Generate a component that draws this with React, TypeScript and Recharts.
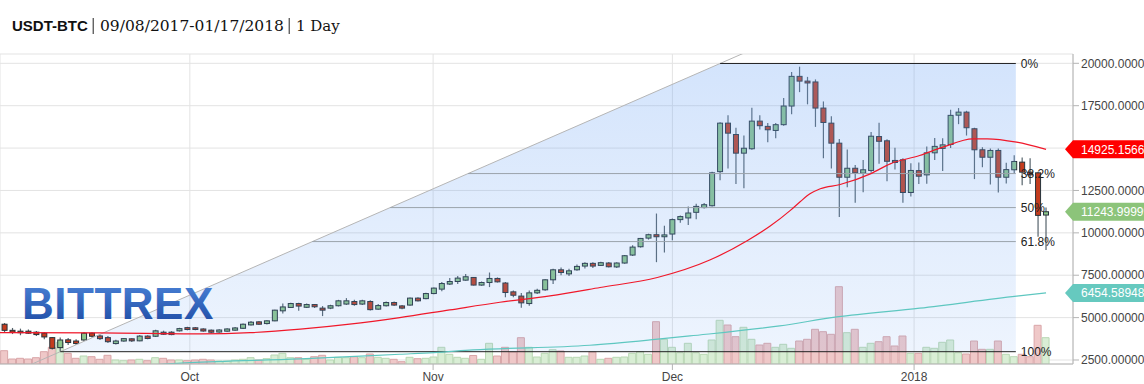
import React from "react";
import {
  Area,
  Bar,
  CartesianGrid,
  Cell,
  ComposedChart,
  Line,
  ReferenceDot,
  ReferenceLine,
  XAxis,
  YAxis,
} from "recharts";

// daily candles, 09/08/2017 .. 01/17/2018 (USDT per BTC)
const opens = [
  4610, 4250, 4200, 4200, 4140, 4080, 3820, 3230, 3690, 3620,
  3680, 4080, 3920, 3820, 3470, 3620, 3750, 3630, 3910, 3900,
  4140, 4140, 4220, 4410, 4400, 4330, 4260, 4150, 4200, 4260,
  4370, 4570, 4750, 4650, 4810, 5400, 5600, 5830, 5610, 5770,
  5560, 5560, 5700, 5800, 5950, 5800, 5950, 5500, 5700, 5890,
  5690, 5740, 6150, 6120, 6420, 6680, 6980, 7130, 7210, 7370,
  6920, 7070, 7310, 7040, 6520, 6270, 5830, 6460, 6640, 7230,
  7820, 7580, 7820, 8040, 8200, 8080, 8220, 7990, 8220, 8690,
  9180, 9690, 9890, 9770, 9930, 10780, 10880, 11210, 11490, 11600,
  13610, 16470, 15800, 14700, 14960, 16590, 16280, 16040, 16380, 17480,
  19230, 18950, 18900, 17360, 16470, 15290, 13280, 13810, 13520, 13680,
  15680, 15430, 14270, 14310, 12380, 13670, 13420, 14720, 14980, 15210,
  16940, 17120, 16140, 14900, 14460, 14860, 13280, 13720, 14170, 13580,
  13540, 11050,
];
const highs = [
  4680, 4390, 4350, 4300, 4210, 4150, 3860, 3820, 3800, 3720,
  4150, 4130, 4010, 3920, 3690, 3800, 3790, 3970, 3960, 4280,
  4230, 4200, 4400, 4460, 4440, 4380, 4300, 4320, 4380, 4440,
  4660, 4800, 4800, 4850, 5470, 5830, 5880, 5880, 5830, 5800,
  5680, 5760, 6050, 6150, 6050, 6050, 6030, 5800, 5950, 5950,
  5750, 6180, 6200, 6460, 6780, 7100, 7330, 7460, 7570, 7400,
  7130, 7660, 7370, 7100, 6600, 6450, 6600, 6700, 7270, 7880,
  7950, 7880, 8140, 8260, 8260, 8300, 8280, 8270, 8700, 9270,
  9700, 9950, 11140, 10420, 10850, 11020, 11550, 11710, 11760, 13600,
  16530, 16940, 16200, 15740, 17380, 16940, 16480, 16480, 17960, 19490,
  19800, 19200, 19050, 17750, 16870, 15530, 14920, 14000, 14300, 15950,
  16500, 15520, 15020, 14400, 14100, 14150, 15100, 15600, 15580, 17260,
  17360, 17200, 16200, 15050, 14980, 14980, 14130, 14580, 14450, 14400,
  13600, 11500,
];
const lows = [
  4100, 4030, 3960, 4040, 3920, 3720, 3120, 2990, 3390, 3390,
  3620, 3830, 3680, 3510, 3420, 3580, 3560, 3600, 3720, 3860,
  3980, 3960, 4180, 4250, 4260, 4160, 4080, 4100, 4160, 4220,
  4330, 4530, 4560, 4600, 4780, 5240, 5560, 5410, 5560, 5560,
  5090, 5500, 5660, 5750, 5700, 5750, 5420, 5460, 5650, 5680,
  5500, 5700, 5950, 6080, 6380, 6560, 6920, 6980, 7170, 6900,
  6880, 6800, 7070, 6200, 6200, 5580, 5700, 6400, 6580, 6990,
  7500, 7460, 7760, 7900, 7920, 8050, 7960, 7930, 8180, 8640,
  9130, 9600, 8270, 8840, 9570, 10600, 10470, 10800, 11430, 11560,
  13100, 13790, 12880, 12630, 14900, 16100, 15350, 15580, 16320, 17000,
  18300, 17580, 16250, 14400, 13800, 10940, 12690, 11770, 12400, 13550,
  14070, 13040, 13740, 11770, 12150, 12880, 12900, 14300, 13650, 15000,
  16410, 15740, 13170, 13870, 12850, 12380, 12910, 13500, 12800, 12880,
  9770, 8990,
];
const closes = [
  4250, 4140, 4120, 4080, 4000, 3860, 3190, 3680, 3530, 3470,
  4080, 3900, 3760, 3580, 3620, 3760, 3630, 3910, 3770, 4220,
  4020, 4000, 4350, 4300, 4300, 4210, 4140, 4270, 4330, 4390,
  4610, 4730, 4610, 4810, 5440, 5630, 5830, 5680, 5770, 5640,
  5440, 5700, 5990, 5990, 5770, 5990, 5470, 5710, 5890, 5740,
  5560, 6150, 5990, 6420, 6740, 7010, 7130, 7330, 7410, 6920,
  7070, 7310, 7110, 6480, 6320, 5870, 6460, 6610, 7230, 7820,
  7660, 7760, 8020, 8200, 8040, 8240, 8000, 8220, 8650, 9160,
  9670, 9890, 9770, 9880, 10780, 10960, 11170, 11560, 11660, 13540,
  16470, 15880, 14700, 14990, 16590, 16320, 16080, 16380, 17480, 19230,
  18950, 18840, 17360, 16510, 15290, 13280, 13810, 13540, 13720, 15700,
  15400, 14220, 14150, 12380, 13680, 13340, 14720, 15100, 15190, 16930,
  17120, 16200, 14900, 14460, 14860, 13280, 13730, 14210, 13580, 13420,
  11030, 11243.99999,
];
const volumes = [
  13.3, 5, 5.7, 5, 6.3, 12.3, 16.7, 21.7, 10.7, 5.7,
  8, 7.3, 4.7, 8.7, 4, 3.3, 4, 4.7, 3.3, 6.3,
  5.7, 4, 4, 3.3, 4, 4.7, 4, 3, 3, 4,
  4.7, 6.3, 4, 5.3, 9, 10.7, 6.3, 6.3, 4.7, 7.3,
  8.7, 4, 6.7, 6.3, 7.3, 6.3, 10, 6.7, 5.7, 4.7,
  2.3, 6.7, 5.3, 5.7, 7, 16.7, 9.7, 6.7, 5.7, 8.5,
  4.7, 20.7, 8, 16.7, 12, 26.3, 16.7, 7, 10.7, 14.3,
  13, 6.7, 6.7, 8, 12, 4.7, 5.7, 6.7, 7, 10.7,
  12.3, 9.7, 42.3, 24.7, 16.7, 11.3, 20.7, 11.3, 9.7, 24,
  43.7, 39, 27.3, 36.7, 24.7, 19, 20.7, 16.7, 19.7, 15.7,
  23, 24.7, 34.7, 32.3, 29.7, 77.3, 31.3, 34.7, 16.7, 20.7,
  22.3, 27.3, 18, 28, 10.7, 10.7, 16.7, 15.7, 21.7, 24,
  11.3, 10, 23, 14.7, 14.7, 23, 9.7, 7.3, 9.7, 7.3,
  38.7, 26.3,
];

// moving averages: [candle index, price]
const maRed: [number, number][] = [
  [-0.6, 4110], [12, 4097], [24.6, 4040], [30.9, 4110], [37.2, 4316],
  [43.4, 4611], [49.7, 5000], [56, 5456], [62.3, 5906], [68.6, 6284],
  [74.9, 6775], [82.1, 7366], [88.7, 8395], [93.4, 9536], [96.3, 10400],
  [98.8, 11310], [100.1, 11850], [101.3, 12300], [102.6, 12600], [105.1, 12850],
  [108.9, 13479], [111.4, 14070], [115.1, 14561], [118, 15052], [121.8, 15548],
  [123.6, 15548], [127.3, 15347], [131, 14925.15669],
];
const maTeal: [number, number][] = [
  [14.5, 2180], [19.6, 2246], [23.3, 2340], [37.2, 2570], [49.7, 2838],
  [54, 2932], [58.9, 3092], [73.6, 3370], [81.2, 3683], [86.2, 3919],
  [97.5, 4510], [104.7, 5043], [115.1, 5557], [127.3, 6266], [131, 6454.589485],
];

const monthTicks = [23.3, 53.9, 84.0, 114.4];
const monthLabels = ["Oct", "Nov", "Dec", "2018"];
const priceTicks = [2500, 5000, 7500, 10000, 12500, 15000, 17500, 20000];

// fibonacci retracement tool: anchors and levels
const fibLow = { i: 7, p: 2990 };
const fibHigh = { i: 90, p: 19990 };
const fibEnd = 127.2;
const fibLevels = [0, 0.382, 0.5, 0.618, 1];

const candles = opens.map((o, i) => ({
  i,
  o,
  h: highs[i],
  l: lows[i],
  c: closes[i],
  v: volumes[i],
}));
const redLine = maRed.map(([i, v]) => ({ i, v }));
const tealLine = maTeal.map(([i, v]) => ({ i, v }));

const fibRange = fibHigh.p - fibLow.p;
const fibSlope = fibRange / (fibHigh.i - fibLow.i);
const fibPrice = (lvl: number) => fibHigh.p - lvl * fibRange;
const fibStart = (p: number) => fibLow.i + (p - fibLow.p) / fibSlope;
const fibArea = [
  { i: fibLow.i, v: fibLow.p },
  { i: fibHigh.i, v: fibHigh.p },
  { i: fibEnd, v: fibHigh.p },
];

const X_DOMAIN: [number, number] = [-0.579, 134.39];
const Y_DOMAIN: [number, number] = [2264, 20549];
const SANS = "'Liberation Sans', Arial, sans-serif";
const SERIF = "'DejaVu Serif', serif";
const UP = "#8dc68a";
const DOWN = "#c43c1e";
const BODY_W = 5;

function Candle(props: any) {
  const { x, y, width, height, payload } = props;
  if (x == null || !payload) return null;
  const top = Math.min(y, y + height);
  const span = Math.abs(height);
  const { o, h, l, c } = payload;
  const k = h > l ? span / (h - l) : 0;
  const yo = top + (h - o) * k;
  const yc = top + (h - c) * k;
  const mid = x + (width || 0) / 2;
  const bt = Math.min(yo, yc);
  const bh = Math.max(Math.abs(yo - yc), 1.5);
  return (
    <g>
      <line x1={mid} x2={mid} y1={top} y2={top + span} stroke="#56636b" strokeWidth={1.2} />
      <rect
        x={mid - BODY_W / 2}
        y={bt}
        width={BODY_W}
        height={bh}
        fill={c >= o ? UP : DOWN}
        stroke="#26323a"
        strokeWidth={1}
      />
    </g>
  );
}

function priceTag(color: string, text: string) {
  return (props: any) => {
    const cy = props.cy;
    return (
      <g>
        <path
          d={`M1065,${cy} L1073,${cy - 9} L1150,${cy - 9} L1150,${cy + 9} L1073,${cy + 9} Z`}
          fill={color}
        />
        <text x={1081} y={cy + 4.5} fill="#fff" fontSize={12} fontFamily={SANS}>
          {text}
        </text>
      </g>
    );
  };
}

export default function App() {
  const lastRed = maRed[maRed.length - 1][1];
  const lastTeal = maTeal[maTeal.length - 1][1];
  const lastClose = closes[closes.length - 1];
  return (
    <div
      style={{
        position: "absolute",
        left: 0,
        top: 0,
        width: 1144,
        height: 384,
        background: "#fff",
        overflow: "hidden",
      }}
    >
      <ComposedChart
        width={1144}
        height={384}
        data={candles}
        margin={{ top: 54, right: 0, bottom: 0, left: 0 }}
      >
        <defs>
          <linearGradient id="fibFill" x1="0" y1="0" x2="0" y2="1">
            <stop offset="0%" stopColor="#6ea5f5" stopOpacity={0.3} />
            <stop offset="100%" stopColor="#6ea5f5" stopOpacity={0.12} />
          </linearGradient>
        </defs>
        <CartesianGrid xAxisId="c" yAxisId="p" stroke="#e3e3e3" zIndex={-100} />
        <XAxis
          xAxisId="c"
          dataKey="i"
          type="number"
          domain={X_DOMAIN}
          allowDataOverflow
          ticks={monthTicks}
          interval={0}
          tickFormatter={(_v: number, idx: number) => monthLabels[idx] ?? ""}
          height={20}
          tick={{ fontSize: 12, fill: "#444", fontFamily: SANS }}
          axisLine={{ stroke: "#b4b4b4" }}
          tickLine={{ stroke: "#b4b4b4" }}
        />
        <XAxis xAxisId="v" dataKey="i" type="number" domain={X_DOMAIN} allowDataOverflow hide />
        <YAxis
          yAxisId="p"
          orientation="right"
          width={71}
          domain={Y_DOMAIN}
          allowDataOverflow
          ticks={priceTicks}
          interval={0}
          tickFormatter={(v: number) => v.toFixed(6)}
          tick={{ fontSize: 12, fill: "#444", fontFamily: SANS }}
          axisLine={{ stroke: "#b4b4b4" }}
          tickLine={{ stroke: "#b4b4b4" }}
        />
        <YAxis yAxisId="vol" hide domain={[0, 310]} allowDataOverflow />

        {fibLevels.map((lvl) => (
          <ReferenceLine
            key={`lab${lvl}`}
            xAxisId="c"
            yAxisId="p"
            segment={[
              { x: fibStart(fibPrice(lvl)), y: fibPrice(lvl) },
              { x: fibEnd, y: fibPrice(lvl) },
            ]}
            stroke="none"
            strokeOpacity={0}
            zIndex={50}
            label={{
              value: `${+(lvl * 100).toFixed(1)}%`,
              position: "right",
              fill: "#222",
              fontSize: 12,
              fontFamily: SANS,
            }}
          />
        ))}

        <Bar
          xAxisId="v"
          yAxisId="vol"
          dataKey="v"
          barSize={7}
          isAnimationActive={false}
          zIndex={100}
        >
          {candles.map((d) => (
            <Cell
              key={d.i}
              fill={d.c >= d.o ? "#d9eed5" : "#efc8c8"}
              stroke={d.c >= d.o ? "#b8d7b3" : "#d9a6a8"}
              strokeWidth={1}
            />
          ))}
        </Bar>
        <Bar
          xAxisId="c"
          yAxisId="p"
          dataKey={(d: any) => [d.l, d.h]}
          barSize={6}
          shape={Candle}
          isAnimationActive={false}
          zIndex={200}
        />

        <Area
          data={fibArea}
          xAxisId="c"
          yAxisId="p"
          dataKey="v"
          type="linear"
          baseValue={fibLow.p}
          stroke="none"
          fill="url(#fibFill)"
          fillOpacity={1}
          dot={false}
          activeDot={false}
          isAnimationActive={false}
          zIndex={350}
        />
        <ReferenceLine
          xAxisId="c"
          yAxisId="p"
          segment={[
            { x: fibLow.i - 30, y: fibLow.p - 30 * fibSlope },
            { x: fibHigh.i + 30, y: fibHigh.p + 30 * fibSlope },
          ]}
          ifOverflow="hidden"
          stroke="#b5b5b5"
          strokeWidth={1}
          zIndex={360}
        />
        {fibLevels.map((lvl) => (
          <ReferenceLine
            key={`fib${lvl}`}
            xAxisId="c"
            yAxisId="p"
            segment={[
              { x: fibStart(fibPrice(lvl)), y: fibPrice(lvl) },
              { x: fibEnd, y: fibPrice(lvl) },
            ]}
            stroke={lvl === 0 || lvl === 1 ? "#222" : "#9ba3ab"}
            strokeWidth={1}
            zIndex={360}
          />
        ))}

        <Line
          data={tealLine}
          xAxisId="c"
          yAxisId="p"
          dataKey="v"
          type="monotone"
          stroke="#5ec7c0"
          strokeWidth={1.2}
          dot={false}
          activeDot={false}
          isAnimationActive={false}
          zIndex={400}
        />
        <Line
          data={redLine}
          xAxisId="c"
          yAxisId="p"
          dataKey="v"
          type="monotone"
          stroke="#f0182a"
          strokeWidth={1.2}
          dot={false}
          activeDot={false}
          isAnimationActive={false}
          zIndex={400}
        />

        <ReferenceDot
          xAxisId="c"
          yAxisId="p"
          x={134}
          y={lastRed}
          ifOverflow="visible"
          shape={priceTag("#ff0000", lastRed.toFixed(8))}
          zIndex={3000}
        />
        <ReferenceDot
          xAxisId="c"
          yAxisId="p"
          x={134}
          y={lastClose}
          ifOverflow="visible"
          shape={priceTag("#8cc47a", lastClose.toFixed(8))}
          zIndex={3000}
        />
        <ReferenceDot
          xAxisId="c"
          yAxisId="p"
          x={134}
          y={lastTeal}
          ifOverflow="visible"
          shape={priceTag("#66c9bf", lastTeal.toFixed(8))}
          zIndex={3000}
        />
      </ComposedChart>

      <svg
        width={1144}
        height={384}
        style={{ position: "absolute", left: 0, top: 0, pointerEvents: "none" }}
      >
        <defs>
          <linearGradient id="logoFill" x1="0" y1="0" x2="0" y2="1">
            <stop offset="0%" stopColor="#4d86da" />
            <stop offset="100%" stopColor="#1d49a2" />
          </linearGradient>
        </defs>
        <text
          x={22}
          y={318.5}
          fontFamily={SANS}
          fontWeight="bold"
          fontSize={44}
          letterSpacing={0.5}
          fill="url(#logoFill)"
        >
          BITTREX
        </text>
        <text x={12} y={30.5} fontFamily={SANS} fontWeight="bold" fontSize={15} fill="#111">
          USDT-BTC
        </text>
        <rect x={92.6} y={18} width={1.3} height={16} fill="#555" />
        <text x={100} y={30.5} fontFamily={SERIF} fontSize={15.5} fill="#111">
          09/08/2017-01/17/2018
        </text>
        <rect x={288.6} y={18} width={1.3} height={16} fill="#555" />
        <text x={296} y={30.5} fontFamily={SERIF} fontSize={15} fill="#111">
          1 Day
        </text>
      </svg>
    </div>
  );
}
